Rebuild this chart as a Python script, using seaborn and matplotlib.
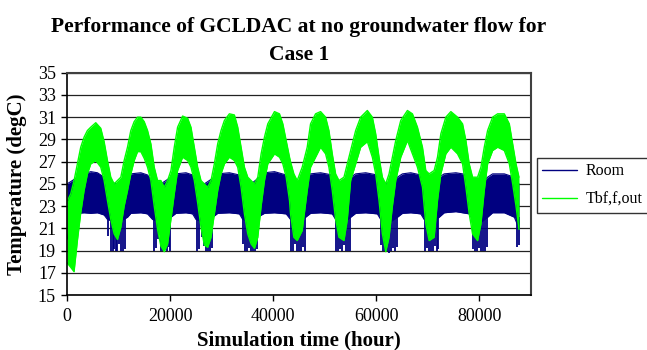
import seaborn as sns
import matplotlib.pyplot as plt

# Tbf,f,out envelope (hour, upper, lower)
tbf_t = [0, 713, 1361, 2009, 2657, 3305, 3953, 4601, 5573, 6545, 7193, 7841, 8489, 9137, 9785,
         10433, 11081, 11729, 12377, 13025, 13673, 14321, 14969, 15617, 16265, 16913, 17561, 18209,
         18857, 19505, 20153, 20801, 21449, 22421, 23393, 24041, 24689, 25337, 25985, 26633, 27281,
         27929, 28577, 29225, 29873, 30521, 31493, 32465, 33113, 33761, 34409, 35057, 35705, 36353,
         37001, 37649, 38297, 38945, 40241, 41213, 41861, 42509, 43157, 43351, 43999, 44647, 45619,
         46591, 47239, 48211, 49183, 50155, 50803, 51451, 52099, 52747, 53719, 54367, 55015, 55987,
         56959, 58255, 59227, 59875, 60523, 61171, 61819, 62467, 63115, 63763, 64735, 66031, 67003,
         67975, 68947, 69595, 70243, 71215, 71863, 72511, 73483, 74455, 75751, 76723, 77371, 78019,
         78667, 79639, 80287, 80935, 81583, 82555, 83527, 84823, 85795, 86443, 87091, 87674]
tbf_hi = [23.4, 24.1, 25.3, 26.8, 28.3, 29.2, 29.8, 30.1, 30.5, 30.0, 28.8, 27.1, 25.6, 25.0, 25.3,
          25.6, 27.1, 28.3, 29.8, 30.6, 31.0, 31.0, 30.6, 29.8, 28.6, 26.5, 25.3, 25.3,
          24.7, 25.3, 26.2, 28.3, 30.1, 31.1, 30.9, 30.1, 28.3, 26.5, 25.3, 25.0, 24.7,
          25.3, 26.8, 28.6, 29.8, 30.7, 31.3, 31.2, 30.1, 28.3, 26.5, 25.6, 25.3, 25.0,
          25.6, 27.7, 29.2, 30.4, 31.5, 31.3, 30.4, 28.9, 27.4, 27.0, 25.9, 25.3, 26.5,
          28.3, 30.4, 31.3, 31.5, 31.0, 29.8, 27.7, 25.9, 25.3, 25.6, 26.8, 28.0, 29.8,
          31.0, 31.6, 31.0, 29.5, 27.4, 25.6, 25.0, 25.9, 27.4, 28.9, 30.7, 31.6, 31.3,
          30.1, 28.3, 26.2, 25.9, 26.2, 27.4, 29.5, 31.0, 31.5, 31.0, 30.4, 28.9, 26.8,
          25.6, 25.6, 26.5, 28.3, 29.8, 31.0, 31.3, 31.3, 30.4, 28.6, 26.8, 25.6]
tbf_lo = [17.9, 17.5, 17.1, 19.9, 22.4, 24.4, 25.9, 26.8, 27.1, 26.5, 25.3, 23.5, 21.8, 20.5, 20.0,
          21.1, 23.0, 24.4, 25.9, 27.1, 27.9, 27.9, 27.3, 26.5, 25.3, 23.0, 20.9, 19.4,
          18.9, 19.6, 21.8, 24.1, 26.2, 27.4, 27.1, 26.5, 25.3, 23.3, 21.1, 19.5, 19.3,
          20.2, 22.3, 24.4, 25.9, 26.8, 27.4, 27.1, 26.5, 24.7, 22.3, 20.5, 19.6, 19.2,
          20.2, 23.0, 25.3, 26.8, 27.7, 27.4, 26.8, 25.6, 23.5, 22.3, 20.2, 19.9, 20.8,
          24.4, 26.5, 27.4, 28.3, 27.7, 26.5, 24.4, 21.8, 20.2, 19.9, 21.8, 25.3, 26.8,
          28.3, 28.8, 27.4, 25.9, 23.5, 20.5, 18.9, 20.2, 23.0, 25.3, 27.4, 28.9, 27.7,
          26.5, 24.7, 21.4, 19.9, 20.2, 23.5, 25.9, 27.7, 28.3, 27.7, 26.8, 24.7, 22.3,
          20.5, 19.9, 21.4, 24.4, 26.8, 28.0, 28.3, 28.0, 26.8, 25.0, 23.0, 20.9]

# Room envelope (hour, upper, lower)
room_t = [0, 713, 1361, 2009, 3305, 4601, 5897, 7193, 7841, 9785, 11729, 12377, 14321, 15617,
          16589, 18209, 20153, 21125, 23069, 24365, 25013, 26633, 28253, 29225, 31493, 33437,
          34085, 35705, 37325, 38297, 40241, 42509, 43351, 44777, 46267, 47239, 49183, 51451,
          52099, 53590, 55015, 55987, 57931, 60199, 60847, 62467, 64087, 65059, 66679, 68623,
          69271, 70697, 72187, 73159, 75427, 78019, 78667, 80157, 81583, 82555, 84823, 86767, 87674]
room_hi = [25.0, 25.2, 25.4, 25.6, 25.9, 26.1, 26.0, 25.6, 25.2, 25.0, 25.6, 25.9, 26.0, 25.8,
           25.2, 25.0, 25.6, 25.9, 26.0, 25.8, 25.2, 25.0, 25.5, 25.9, 26.0, 25.8,
           25.2, 25.0, 25.6, 26.0, 26.1, 25.8, 25.2, 25.0, 25.5, 25.9, 26.0, 25.8,
           25.2, 25.0, 25.6, 25.9, 26.0, 25.8, 25.2, 25.0, 25.6, 25.9, 26.0, 25.8,
           25.2, 25.0, 25.6, 25.9, 26.0, 25.8, 25.2, 25.0, 25.6, 25.9, 25.9, 25.6, 25.0]
room_lo = [20.0, 21.5, 22.2, 22.35, 22.4, 22.35, 22.4, 22.2, 21.8, 21.5, 22.0, 22.35, 22.4, 22.3,
           21.8, 21.5, 22.0, 22.35, 22.4, 22.3, 21.8, 21.5, 22.0, 22.35, 22.4, 22.3,
           21.8, 21.5, 22.1, 22.35, 22.4, 22.3, 21.8, 21.5, 22.0, 22.35, 22.4, 22.3,
           21.8, 21.5, 22.0, 22.35, 22.4, 22.3, 21.8, 21.5, 22.0, 22.35, 22.4, 22.3,
           21.8, 21.5, 22.0, 22.4, 22.5, 22.3, 21.8, 21.5, 22.0, 22.4, 22.4, 22.0, 21.0]

# Room dips in the cold season (hour, lowest value)
dip_t = [7970, 8489, 8878, 9137, 9461, 9785, 10174, 10562, 10951, 11340,
         16783, 17237, 17690, 18209, 18598, 18986, 19375, 19764, 20023,
         25207, 25661, 26114, 26503, 26892, 27281, 27670, 28058,
         34214, 34603, 34992, 35381, 35770, 36158, 36547, 36871,
         43481, 43870, 44258, 44647, 45036, 45425, 45814, 46138,
         52229, 52618, 53006, 53395, 53784, 54173, 54562, 54886,
         60977, 61366, 61754, 62143, 62532, 62921, 63310, 63698, 64022,
         69401, 69790, 70178, 70567, 70956, 71345, 71734, 72058,
         78797, 79186, 79574, 79963, 80352, 80741, 81130, 81454,
         87286, 87610]
dip_lo = [20.3, 19.0, 19.0, 19.1, 19.0, 19.0, 19.6, 19.0, 19.0, 19.1,
          19.0, 19.2, 20.0, 19.0, 19.0, 19.1, 19.0, 19.3, 19.0,
          19.0, 19.1, 20.2, 19.4, 19.0, 19.0, 19.0, 19.2,
          19.6, 19.0, 19.0, 19.2, 19.0, 19.0, 19.0, 19.1,
          19.0, 19.0, 19.6, 19.0, 19.0, 19.0, 19.3, 19.0,
          19.0, 19.0, 19.1, 19.0, 19.5, 19.0, 19.0, 19.0,
          19.5, 19.0, 19.0, 19.0, 18.8, 19.0, 19.2, 19.0, 19.3,
          19.0, 19.2, 19.0, 19.0, 19.0, 19.4, 19.0, 19.1,
          19.1, 19.0, 19.0, 19.2, 19.0, 19.0, 19.0, 19.3,
          19.3, 19.5]

navy = "#000080"
lime = "#00FF00"

sns.set_theme(style="white")
plt.rcParams['font.family'] = ['Liberation Serif', 'DejaVu Serif']
plt.rcParams.update({"text.color": "black", "axes.labelcolor": "black",
                     "xtick.color": "black", "ytick.color": "black"})

fig, ax = plt.subplots(figsize=(6.47, 3.5), dpi=100)
fig.subplots_adjust(left=0.1036, right=0.8207, bottom=0.157, top=0.7923)

# Room
sns.lineplot(x=room_t, y=room_hi, color=navy, lw=0.8, ax=ax, label="Room", zorder=3)
sns.lineplot(x=room_t, y=room_lo, color=navy, lw=0.8, ax=ax, zorder=3)
ax.fill_between(room_t, room_lo, room_hi, color=navy, lw=0, zorder=3)
ax.vlines(dip_t, dip_lo, 22.0, color=navy, lw=1.3, zorder=3)

# Tbf,f,out drawn on top
sns.lineplot(x=tbf_t, y=tbf_hi, color=lime, lw=1.0, ax=ax, label="Tbf,f,out", zorder=4)
sns.lineplot(x=tbf_t, y=tbf_lo, color=lime, lw=1.0, ax=ax, zorder=4)
ax.fill_between(tbf_t, tbf_lo, tbf_hi, color=lime, lw=0, zorder=4)

ax.set_xlim(0, 90000)
ax.set_ylim(15, 35)
ax.set_xticks([0, 20000, 40000, 60000, 80000])
ax.set_yticks(range(15, 36, 2))
ax.set_axisbelow(True)
ax.yaxis.grid(True, color="#222222", lw=0.9)
ax.xaxis.grid(False)

for s in ["left", "bottom"]:
    ax.spines[s].set_color("black")
    ax.spines[s].set_linewidth(1.2)
for s in ["top", "right"]:
    ax.spines[s].set_color("#404040")
    ax.spines[s].set_linewidth(1.5)
for s in ax.spines.values():
    s.set_zorder(5)

ax.tick_params(axis="both", which="major", labelsize=13, length=4, width=1,
               color="black", direction="out")
ax.tick_params(axis="x", pad=5)
ax.tick_params(axis="y", pad=4)
ax.xaxis.set_ticks_position("bottom")
ax.yaxis.set_ticks_position("left")

ax.set_xlabel("Simulation time (hour)", fontsize=15, fontweight="bold", labelpad=4)
ax.set_ylabel("Temperature (degC)", fontsize=15, fontweight="bold", labelpad=8)
ax.set_title("Performance of GCLDAC at no groundwater flow for\nCase 1",
             fontsize=15.5, fontweight="bold", linespacing=1.55, pad=9)

handles, labels = ax.get_legend_handles_labels()
leg = ax.legend(handles, labels, loc="center left", bbox_to_anchor=(0.8295, 0.471),
                bbox_transform=fig.transFigure, fontsize=11.5, frameon=True,
                fancybox=False, edgecolor="black", handlelength=2.2,
                handletextpad=0.5, borderpad=0.35, labelspacing=0.75,
                borderaxespad=0)
leg.get_frame().set_linewidth(1.0)
for line in leg.get_lines():
    line.set_linewidth(1.0)

fig.savefig("out.png", dpi=100)
